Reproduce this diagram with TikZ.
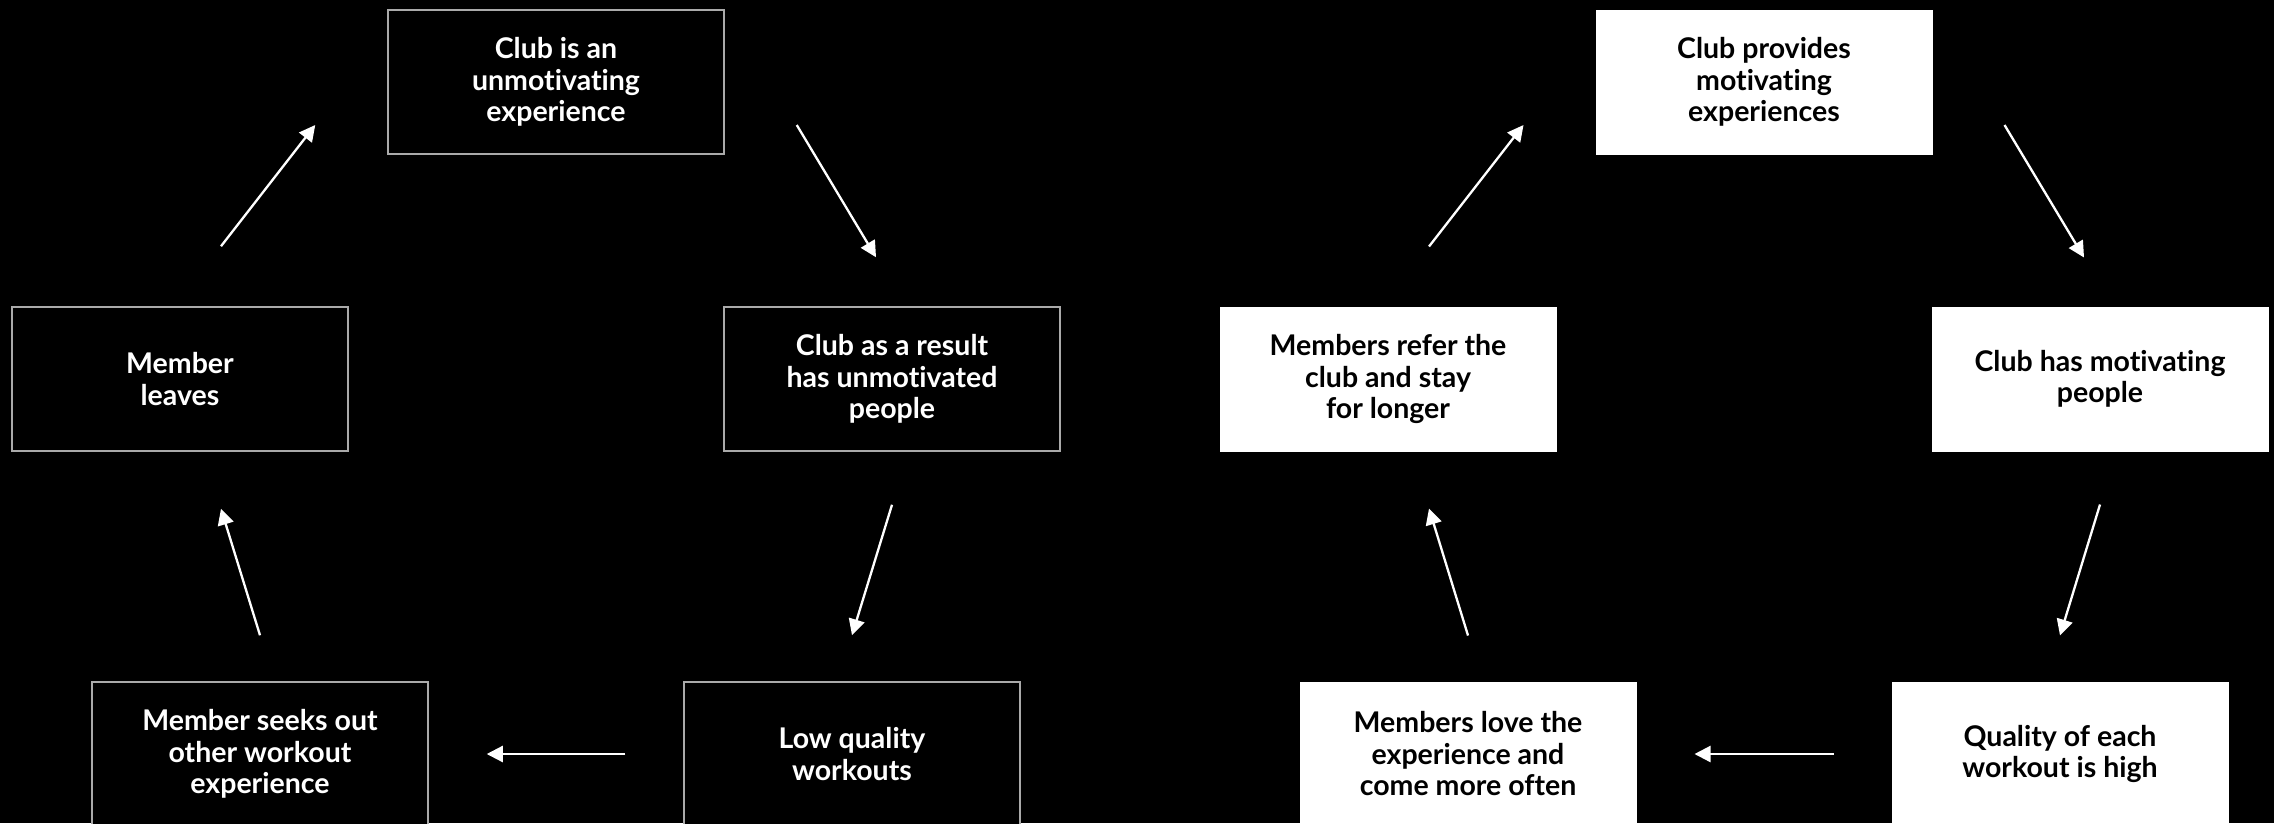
\documentclass[tikz,border=0pt]{standalone}
\usepackage{fontspec}
\setmainfont[Ligatures=NoCommon]{Lato}
\usepackage{xcolor}
\usepackage{tikz}
\usetikzlibrary{shapes, arrows.meta, positioning}

\definecolor{edgegray}{RGB}{170,170,170}

\begin{document}
\begin{tikzpicture}[
        x=1pt, y=1pt,
        block/.style={rectangle, minimum width=336pt, minimum height=144pt, align=center, inner sep=0pt, font=\fontsize{28.5pt}{31.5pt}\selectfont\bfseries},
        dark_block/.style={block, draw=edgegray, line width=1.5pt, fill=black, text=white},
        light_block/.style={block, draw=white, line width=1pt, fill=white, text=black},
        arrow/.style={-{Triangle[length=16pt, width=16pt]}, white, line width=2.3pt}
    ]
    \path[use as bounding box, fill=black] (0,0) rectangle (2274,-823);
    \clip (0,0) rectangle (2274,-823);

    % vicious loop
    \node[dark_block] (unmot) at (556,-82) {Club is an\\unmotivating\\experience};
    \node[dark_block] (leaves) at (180,-379) {Member\\leaves};
    \node[dark_block] (result) at (892,-379) {Club as a result\\has unmotivated\\people};
    \node[dark_block] (seeks) at (260,-754) {Member seeks out\\other workout\\experience};
    \node[dark_block] (lowq) at (852,-754) {Low quality\\workouts};

    \draw[arrow] ([shift={(41pt,60pt)}]leaves.north) -- ([shift={(-72pt,-43pt)}]unmot.west);
    \draw[arrow] ([shift={(72pt,-43pt)}]unmot.east) -- ([shift={(-16pt,49pt)}]result.north);
    \draw[arrow] ([yshift=-53pt]result.south) -- ([yshift=46pt]lowq.north);
    \draw[arrow] ([xshift=-58pt]lowq.west) -- ([xshift=58pt]seeks.east);
    \draw[arrow] ([yshift=46pt]seeks.north) -- ([shift={(41pt,-57pt)}]leaves.south);

    % virtuous loop
    \node[light_block] (motiv) at (1764,-82) {Club provides\\motivating\\experiences};
    \node[light_block] (refer) at (1388,-379) {Members refer the\\club and stay\\for longer};
    \node[light_block] (haspeople) at (2100,-379) {Club has motivating\\people};
    \node[light_block] (love) at (1468,-754) {Members love the\\experience and\\come more often};
    \node[light_block] (highq) at (2060,-754) {Quality of each\\workout is high};

    \draw[arrow] ([shift={(41pt,60pt)}]refer.north) -- ([shift={(-72pt,-43pt)}]motiv.west);
    \draw[arrow] ([shift={(72pt,-43pt)}]motiv.east) -- ([shift={(-16pt,49pt)}]haspeople.north);
    \draw[arrow] ([yshift=-53pt]haspeople.south) -- ([yshift=46pt]highq.north);
    \draw[arrow] ([xshift=-58pt]highq.west) -- ([xshift=58pt]love.east);
    \draw[arrow] ([yshift=46pt]love.north) -- ([shift={(41pt,-57pt)}]refer.south);
\end{tikzpicture}
\end{document}
